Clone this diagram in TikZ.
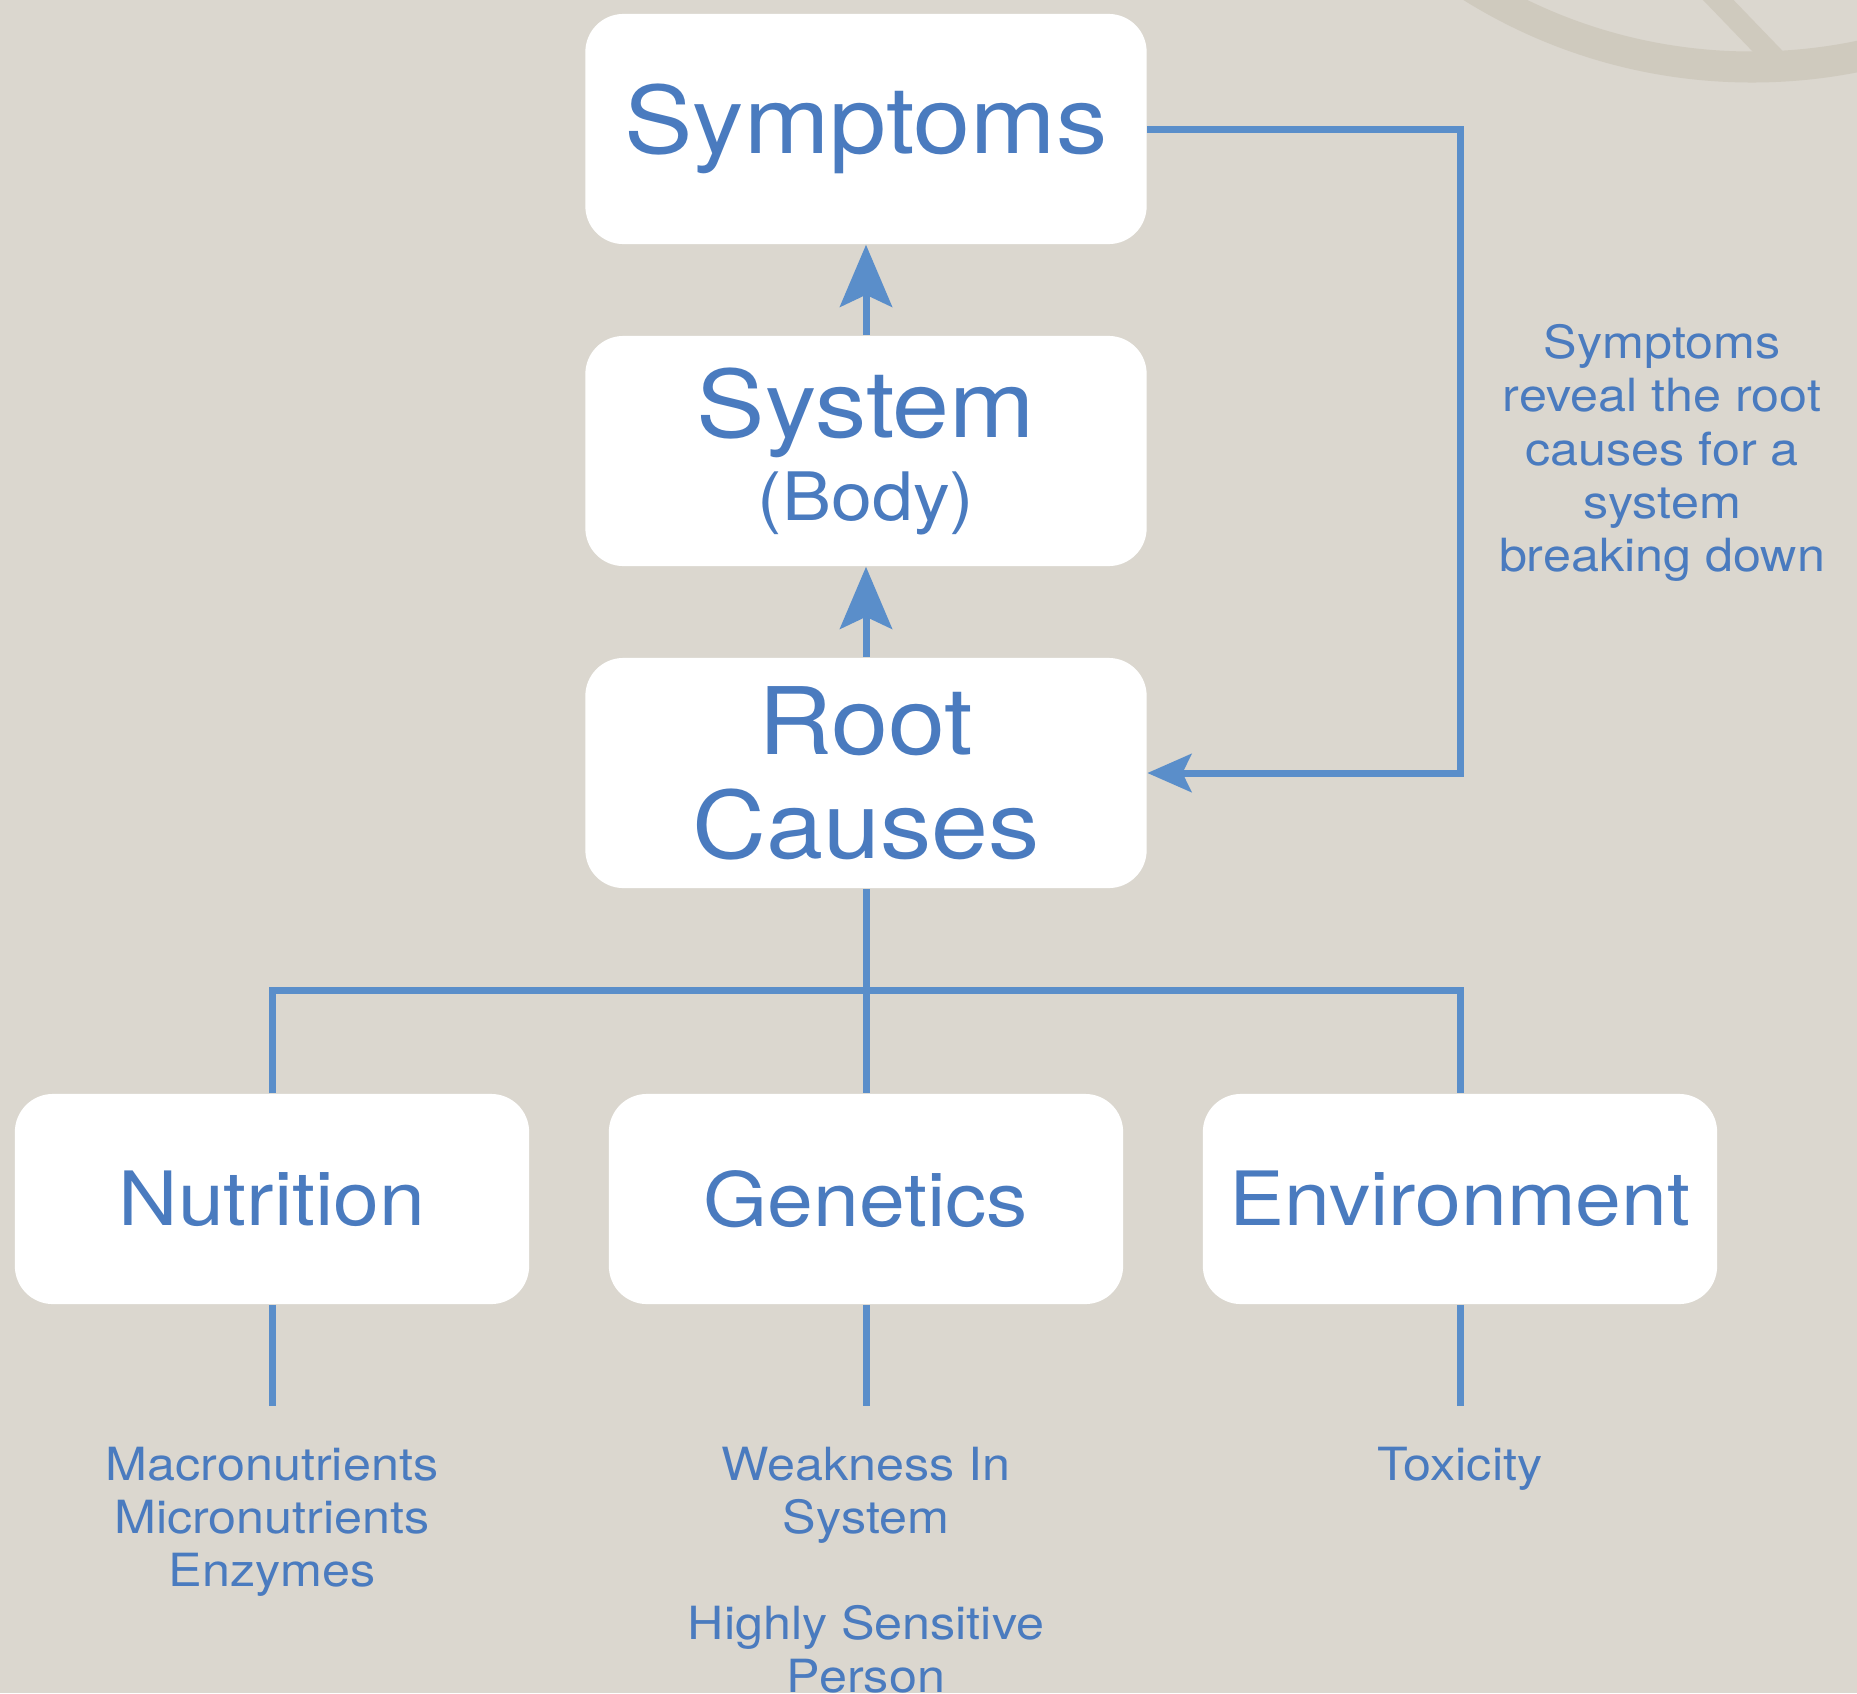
\documentclass[tikz,border=0pt]{standalone}
\usepackage{fontspec}
\setmainfont{TeX Gyre Heros}[FakeStretch=1.10]
\usetikzlibrary{arrows.meta,calc}

\definecolor{bgtan}{HTML}{DBD7CF}
\definecolor{decotan}{HTML}{CFCABE}
\definecolor{inkblue}{HTML}{4A7BBF}
\definecolor{lineblue}{HTML}{5A8ECA}

\tikzset{
  card/.style={fill=white, rounded corners=0.38cm, text=inkblue, align=center, inner sep=0pt},
  bigcard/.style={card, minimum width=5.61cm, minimum height=2.30cm, font=\fontsize{26.5}{29.6}\selectfont},
  leafcard/.style={card, minimum width=5.14cm, minimum height=2.10cm, font=\fontsize{21.3}{25}\selectfont},
  note/.style={text=inkblue, align=center, inner sep=0pt, anchor=north, font=\fontsize{13}{15.1}\selectfont},
  link/.style={draw=lineblue, line width=0.07cm},
  uparrow/.style={link, -{Stealth[length=0.62cm, width=0.52cm, inset=0.12cm]}},
  backarrow/.style={link, -{Stealth[length=0.44cm, width=0.38cm, inset=0.09cm]}},
}

\begin{document}
\begin{tikzpicture}[x=0.01cm, y=-0.01cm]
    \useasboundingbox (0,0) rectangle (1857,1693);
    \fill[bgtan] (0,0) rectangle (1857,1693);
    \begin{scope}
      \clip (0,0) rectangle (1857,1693);
      \draw[decotan, line width=0.31cm] (1752,-463) circle (530);
      \draw[decotan, line width=0.22cm] (1699,-20) -- (1778,62);
    \end{scope}

    \node[bigcard] (sym) at (866,129) {Symptoms};
    \node[bigcard, font=\fontsize{26.5}{23.6}\selectfont] (sys) at (866,451) {System\\{\fontsize{19}{22}\selectfont (Body)}};
    \node[bigcard] (root) at (866,773) {Root\\Causes};

    \draw[uparrow] (sys.north) -- (sym.south);
    \draw[uparrow] (root.north) -- (sys.south);

    \coordinate (fbturn) at (1460,773);
    \draw[backarrow] (sym.east) -| (fbturn) -- (root.east);
    \node[note] (fbnote) at (1662,324) {Symptoms\\reveal the root\\causes for a\\system\\breaking down};

    \foreach \n/\x/\t in {nut/272/Nutrition, gen/866/Genetics, env/1460/Environment} {
      \node[leafcard] (\n) at (\x,1199) {\t};
      \coordinate (\n end) at (\x,1406);
      \draw[link] (\n.south) -- (\n end);
    }

    \coordinate (split) at (866,990);
    \draw[link] (root.south) -- (gen.north);
    \draw[link] (nut.north) |- (split) -| (env.north);

    \node[note] (nutlist) at (272,1446) {Macronutrients\\Micronutrients\\Enzymes};
    \node[note] (genlist) at (866,1446) {Weakness In\\System\\[15.1pt]Highly Sensitive\\Person};
    \node[note] (envlist) at (1460,1446) {Toxicity};

  \end{tikzpicture}
\end{document}
